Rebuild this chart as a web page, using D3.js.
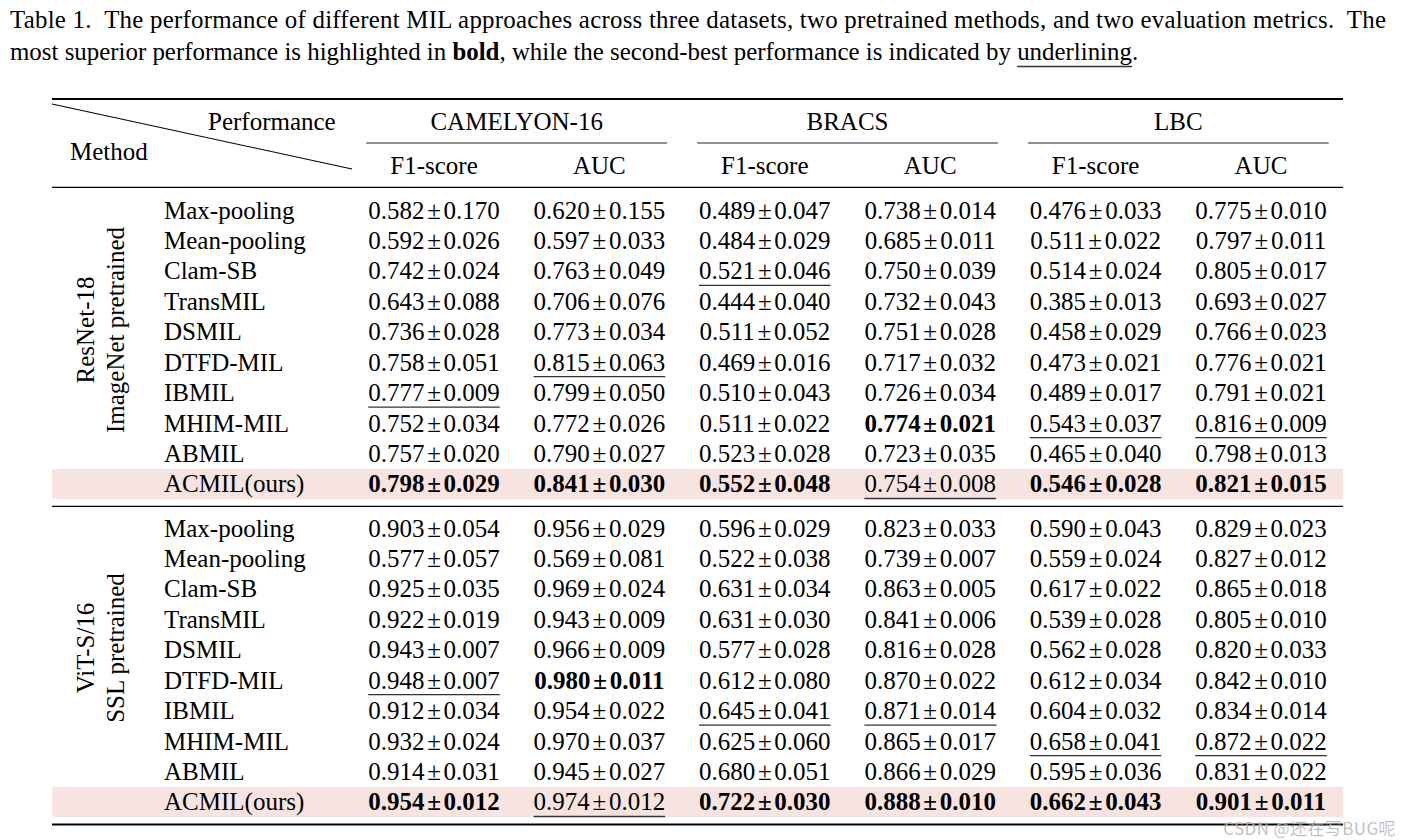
<!DOCTYPE html>
<html>
<head>
<meta charset="utf-8">
<script src="https://cdn.jsdelivr.net/npm/d3@7/dist/d3.min.js"></script>
<style>
  body { margin: 0; background: #fff; }
  svg { display: block; }
</style>
</head>
<body>
<svg id="chart" width="1411" height="840"></svg>
<script>
const captionLine1 = "Table 1.  The performance of different MIL approaches across three datasets, two pretrained methods, and two evaluation metrics.  The";
const captionLine2Parts = [
  {t: "most superior performance is highlighted in ", w: "normal", u: false},
  {t: "bold", w: "bold", u: false},
  {t: ", while the second-best performance is indicated by ", w: "normal", u: false},
  {t: "underlining", w: "normal", u: true},
  {t: ".", w: "normal", u: false}
];
const methods = ["Max-pooling","Mean-pooling","Clam-SB","TransMIL","DSMIL","DTFD-MIL","IBMIL","MHIM-MIL","ABMIL","ACMIL(ours)"];
const datasets = ["CAMELYON-16","BRACS","LBC"];
const metrics = ["F1-score","AUC"];
const backbones = [["ResNet-18","ImageNet pretrained"],["ViT-S/16","SSL pretrained"]];
const cornerLabels = ["Performance","Method"];

const resnetMean = [
[0.582,0.620,0.489,0.738,0.476,0.775],
[0.592,0.597,0.484,0.685,0.511,0.797],
[0.742,0.763,0.521,0.750,0.514,0.805],
[0.643,0.706,0.444,0.732,0.385,0.693],
[0.736,0.773,0.511,0.751,0.458,0.766],
[0.758,0.815,0.469,0.717,0.473,0.776],
[0.777,0.799,0.510,0.726,0.489,0.791],
[0.752,0.772,0.511,0.774,0.543,0.816],
[0.757,0.790,0.523,0.723,0.465,0.798],
[0.798,0.841,0.552,0.754,0.546,0.821]];
const resnetStd = [
[0.170,0.155,0.047,0.014,0.033,0.010],
[0.026,0.033,0.029,0.011,0.022,0.011],
[0.024,0.049,0.046,0.039,0.024,0.017],
[0.088,0.076,0.040,0.043,0.013,0.027],
[0.028,0.034,0.052,0.028,0.029,0.023],
[0.051,0.063,0.016,0.032,0.021,0.021],
[0.009,0.050,0.043,0.034,0.017,0.021],
[0.034,0.026,0.022,0.021,0.037,0.009],
[0.020,0.027,0.028,0.035,0.040,0.013],
[0.029,0.030,0.048,0.008,0.028,0.015]];
const resnetMark = ["------","------","--u---","------","------","-u----","u-----","---buu","------","bbbubb"];

const vitMean = [
[0.903,0.956,0.596,0.823,0.590,0.829],
[0.577,0.569,0.522,0.739,0.559,0.827],
[0.925,0.969,0.631,0.863,0.617,0.865],
[0.922,0.943,0.631,0.841,0.539,0.805],
[0.943,0.966,0.577,0.816,0.562,0.820],
[0.948,0.980,0.612,0.870,0.612,0.842],
[0.912,0.954,0.645,0.871,0.604,0.834],
[0.932,0.970,0.625,0.865,0.658,0.872],
[0.914,0.945,0.680,0.866,0.595,0.831],
[0.954,0.974,0.722,0.888,0.662,0.901]];
const vitStd = [
[0.054,0.029,0.029,0.033,0.043,0.023],
[0.057,0.081,0.038,0.007,0.024,0.012],
[0.035,0.024,0.034,0.005,0.022,0.018],
[0.019,0.009,0.030,0.006,0.028,0.010],
[0.007,0.009,0.028,0.028,0.028,0.033],
[0.007,0.011,0.080,0.022,0.034,0.010],
[0.034,0.022,0.041,0.014,0.032,0.014],
[0.024,0.037,0.060,0.017,0.041,0.022],
[0.031,0.027,0.051,0.029,0.036,0.022],
[0.012,0.012,0.030,0.010,0.043,0.011]];
const vitMark = ["------","------","------","------","------","ub----","--uu--","----uu","------","bubbbb"];

const watermark = "CSDN @还在写BUG呢";

// ---------- drawing ----------
const svg = d3.select("#chart");
const FONT = "'Liberation Serif', 'Times New Roman', serif";
const FS = 25;
const fmt = d3.format(".3f");
const ink = "#000";

svg.append("rect").attr("width", 1411).attr("height", 840).attr("fill", "#fff");

const tableLeft = 52, tableRight = 1343;

const colKeys = d3.range(6);
const x = d3.scaleBand().domain(colKeys).range([351.3, 1343.7]);
const xc = i => x(i) + x.bandwidth() / 2;
const dsX = d3.scaleBand().domain(datasets).range([351.3, 1343.7]);

const blockRanges = [[194.8, 499.2], [512.8, 817.2]];
const yScales = blockRanges.map(r => d3.scaleBand().domain(d3.range(methods.length)).range(r));

// ---- caption ----
const cap = svg.append("g").attr("font-family", FONT).attr("fill", ink);
const line2 = cap.append("text").attr("x", 10).attr("y", 60).attr("font-size", 23);
line2.selectAll("tspan").data(captionLine2Parts).join("tspan")
  .attr("font-weight", d => d.w).text(d => d.t);
let len2 = line2.node().getComputedTextLength();
const capFS = 23 * 1129 / len2;
line2.attr("font-size", capFS);
const line1 = cap.append("text").attr("x", 10).attr("y", 28).attr("font-size", capFS)
  .attr("xml:space", "preserve").text(captionLine1);
line1.attr("textLength", 1376).attr("lengthAdjust", "spacing");
{
  const start = captionLine2Parts.slice(0, 3).map(d => d.t).join("").length;
  const end = start + captionLine2Parts[3].t.length - 1;
  const n = line2.node();
  const x0 = n.getStartPositionOfChar(start).x;
  const x1 = n.getEndPositionOfChar(end).x;
  cap.append("line").attr("x1", x0).attr("x2", x1).attr("y1", 66.5).attr("y2", 66.5)
    .attr("stroke", "#333").attr("stroke-width", 1.3);
}

// ---- rules ----
const rules = svg.append("g").attr("stroke", ink);
rules.append("line").attr("x1", tableLeft).attr("x2", tableRight).attr("y1", 99).attr("y2", 99).attr("stroke-width", 2);
rules.append("line").attr("x1", tableLeft).attr("x2", tableRight).attr("y1", 187.3).attr("y2", 187.3).attr("stroke-width", 1.2);
rules.append("line").attr("x1", tableLeft).attr("x2", tableRight).attr("y1", 506.3).attr("y2", 506.3).attr("stroke-width", 1.2);
rules.append("line").attr("x1", tableLeft).attr("x2", tableRight).attr("y1", 824.5).attr("y2", 824.5).attr("stroke-width", 2);
datasets.forEach(ds => {
  rules.append("line").attr("x1", dsX(ds) + 15).attr("x2", dsX(ds) + dsX.bandwidth() - 15)
    .attr("y1", 143).attr("y2", 143).attr("stroke-width", 1).attr("stroke", "#222");
});
rules.append("line").attr("x1", tableLeft).attr("y1", 104).attr("x2", 352).attr("y2", 169).attr("stroke-width", 1.1);

// ---- header ----
const head = svg.append("g").attr("font-family", FONT).attr("font-size", FS).attr("fill", ink);
head.append("text").attr("x", 208).attr("y", 130).text(cornerLabels[0]);
head.append("text").attr("x", 70).attr("y", 160).text(cornerLabels[1]);
head.selectAll("text.ds").data(datasets).join("text").attr("class", "ds")
  .attr("x", d => dsX(d) + dsX.bandwidth() / 2).attr("y", 130).attr("text-anchor", "middle").text(d => d);
head.selectAll("text.mt").data(colKeys).join("text").attr("class", "mt")
  .attr("x", d => xc(d)).attr("y", 173.5).attr("text-anchor", "middle").text(d => metrics[d % 2]);

// ---- body ----
const blocks = [
  {mean: resnetMean, std: resnetStd, mark: resnetMark, label: backbones[0]},
  {mean: vitMean, std: vitStd, mark: vitMark, label: backbones[1]}
];

blocks.forEach((b, bi) => {
  const y = yScales[bi];
  const g = svg.append("g").attr("font-family", FONT).attr("font-size", FS).attr("fill", ink);
  const last = methods.length - 1;
  g.append("rect").attr("x", tableLeft).attr("width", tableRight - tableLeft)
    .attr("y", y(last)).attr("height", y.bandwidth()).attr("fill", "#f7e4e1");
  const r = y.range();
  const cy = (r[0] + r[1]) / 2 - 17;
  b.label.forEach((lab, li) => {
    g.append("text").attr("transform", `translate(${85 + li * 30},${cy}) rotate(-90)`)
      .attr("text-anchor", "middle").attr("dy", "0.35em").text(lab);
  });
  g.selectAll("text.m").data(methods).join("text").attr("class", "m")
    .attr("x", 164).attr("y", (d, i) => y(i) + y.bandwidth() / 2 + 8.5).text(d => d);
  b.mean.forEach((row, ri) => {
    row.forEach((v, ci) => {
      const mk = b.mark[ri][ci];
      const t = g.append("text").attr("x", xc(ci)).attr("y", y(ri) + y.bandwidth() / 2 + 8.5)
        .attr("text-anchor", "middle").attr("font-weight", mk === "b" ? "bold" : "normal");
      t.append("tspan").text(fmt(v));
      t.append("tspan").attr("dx", 2.7).text("±");
      t.append("tspan").attr("dx", 2.7).text(fmt(b.std[ri][ci]));
      if (mk === "u") {
        const bb = t.node().getBBox();
        g.append("line").attr("x1", bb.x).attr("x2", bb.x + bb.width)
          .attr("y1", y(ri) + y.bandwidth() / 2 + 14.5).attr("y2", y(ri) + y.bandwidth() / 2 + 14.5)
          .attr("stroke", "#333").attr("stroke-width", 1.3);
      }
    });
  });
});

// ---- watermark ----
svg.append("text").attr("x", 1396).attr("y", 834.5).attr("text-anchor", "end")
  .attr("font-family", "'Noto Sans CJK SC', 'Noto Sans', sans-serif").attr("font-size", 17)
  .attr("letter-spacing", 0.4)
  .attr("fill", "rgba(150,150,150,0.75)").attr("stroke", "rgba(255,255,255,0.5)").attr("stroke-width", 0.5)
  .text(watermark);
</script>
</body>
</html>
